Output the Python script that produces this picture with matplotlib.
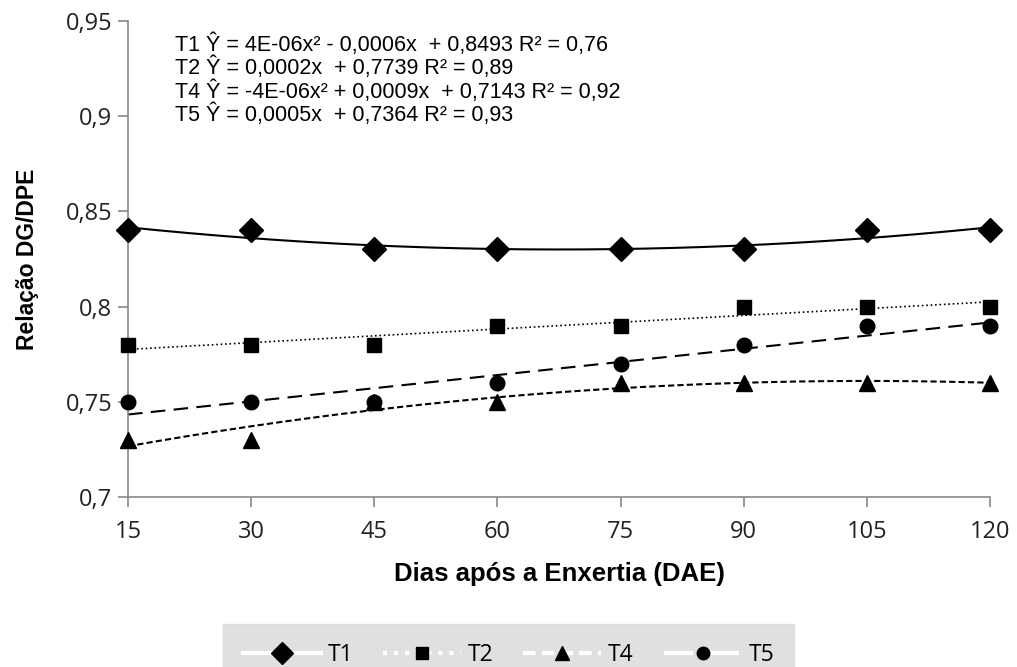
import numpy as np
import matplotlib.pyplot as plt
from matplotlib.lines import Line2D
from matplotlib.ticker import FuncFormatter

dae = [15, 30, 45, 60, 75, 90, 105, 120]
t1 = [0.84, 0.84, 0.83, 0.83, 0.83, 0.83, 0.84, 0.84]
t2 = [0.78, 0.78, 0.78, 0.79, 0.79, 0.80, 0.80, 0.80]
t4 = [0.73, 0.73, 0.75, 0.75, 0.76, 0.76, 0.76, 0.76]
t5 = [0.75, 0.75, 0.75, 0.76, 0.77, 0.78, 0.79, 0.79]

eqs = ["T1 Ŷ = 4E-06x² - 0,0006x  + 0,8493 R² = 0,76",
       "T2 Ŷ = 0,0002x  + 0,7739 R² = 0,89",
       "T4 Ŷ = -4E-06x² + 0,0009x  + 0,7143 R² = 0,92",
       "T5 Ŷ = 0,0005x  + 0,7364 R² = 0,93"]

arial = ['Liberation Sans', 'DejaVu Sans']
gray = '#888888'

fig = plt.figure(figsize=(10.17, 6.67), dpi=100)
ax = fig.add_axes([128/1017, 1-497/667, (990-128)/1017, (497-21)/667])

x = np.array(dae, dtype=float)
xs = np.linspace(15, 120, 200)
series = [
    (t1, 2, 'D', '-', 12.5),
    (t2, 1, 's', ':', 10.5),
    (t4, 2, '^', (0, (3, 1.5)), 12),
    (t5, 1, 'o', (0, (7, 4)), 10.5),
]
for y, deg, m, ls, ms in series:
    c = np.polyfit(x, y, deg)
    ax.plot(xs, np.polyval(c, xs), color='black', ls=ls, lw=1.5 if ls != ':' else 1.2)
    ax.plot(x, y, m, color='black', ms=ms, ls='none', clip_on=False, zorder=3)

ax.set_xlim(15, 120)
ax.set_ylim(0.7, 0.95)
ax.set_xticks(dae)
ax.set_yticks([0.7, 0.75, 0.8, 0.85, 0.9, 0.95])
ax.yaxis.set_major_formatter(FuncFormatter(lambda v, p: ('%g' % round(v, 2)).replace('.', ',')))
for s in ['top', 'right']:
    ax.spines[s].set_visible(False)
for s in ['left', 'bottom']:
    ax.spines[s].set_color(gray)
    ax.spines[s].set_linewidth(1.2)
ax.tick_params(color=gray, length=7.2, width=1.2, labelsize=17)
ax.tick_params(axis='y', pad=4)
ax.tick_params(axis='x', pad=9)
for lab in ax.get_xticklabels() + ax.get_yticklabels():
    lab.set_family(['Open Sans', 'DejaVu Sans'])
    lab.set_color('#222222')

ax.set_xlabel('Dias após a Enxertia (DAE)', fontsize=18.5, fontweight='bold',
              family=arial, labelpad=13)
ax.set_ylabel('Relação DG/DPE', fontsize=16.5, fontweight='bold',
              family=arial, labelpad=19)

ax.text(0.055, 0.974, "\n".join(eqs), transform=ax.transAxes, va='top', ha='left',
        fontsize=15.5, family=arial, linespacing=1.05)

handles = [Line2D([], [], color='white', ls=ls, lw=3, marker=m, mfc='black', mec='black', ms=ms - 1.5)
           for _, _, m, ls, ms in series]
leg = fig.legend(handles, ['T1', 'T2', 'T4', 'T5'], loc='upper center', ncol=4,
                 bbox_to_anchor=(0.5, 1 - 624/667), frameon=True, fancybox=False,
                 handlelength=3.4, handletextpad=0.3, columnspacing=1.3,
                 borderpad=0.85, borderaxespad=0,
                 prop={'family': ['Open Sans', 'DejaVu Sans'], 'size': 16.5})
leg.get_frame().set_facecolor('#d9d9d9')
leg.get_frame().set_edgecolor('#d9d9d9')

fig.savefig('out.png', dpi=100)
